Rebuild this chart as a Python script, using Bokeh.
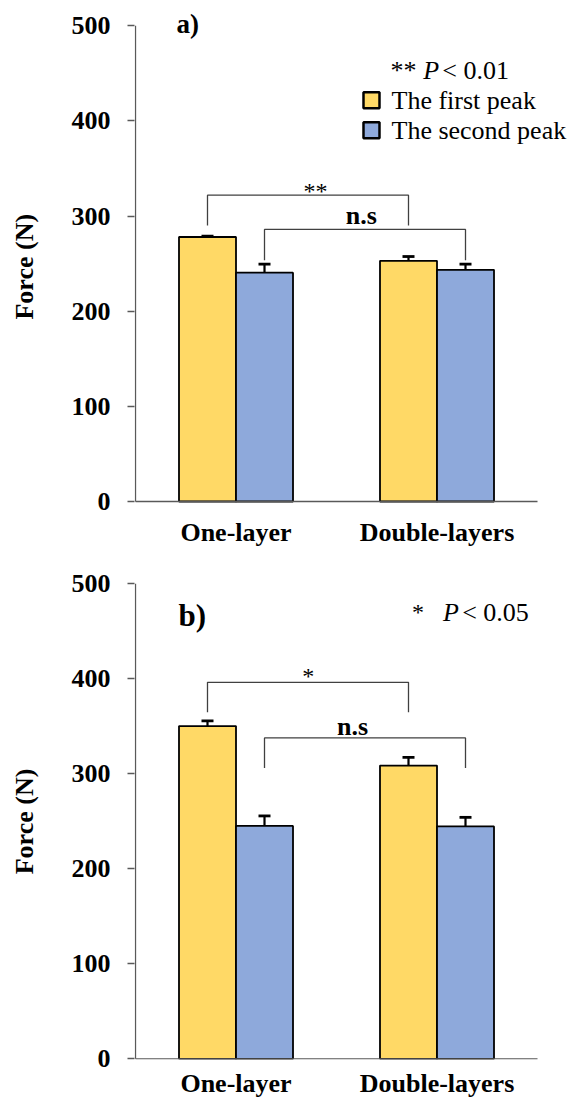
from bokeh.plotting import figure
from bokeh.models import (ColumnDataSource, Range1d, Whisker, TeeHead, Label,
                          FixedTicker)
from bokeh.layouts import column
from bokeh.embed import file_html
from bokeh.resources import INLINE

# ---------------- data ----------------
groups = ["One-layer", "Double-layers"]
series = ["The first peak", "The second peak"]
yticks = [0, 100, 200, 300, 400, 500]

a_first = [278, 253]
a_first_err = [1, 4.5]
a_second = [240.5, 243.5]
a_second_err = [9, 6]

b_first = [350, 308.5]
b_first_err = [5.5, 8.5]
b_second = [245, 244.5]
b_second_err = [10.5, 9.5]

# significance brackets: (series joined, top, leg end)
a_brackets = [("first", 322, 290), ("second", 286, 253.5)]
b_brackets = [("first", 396, 364.5), ("second", 337.5, 306)]

# ---------------- style ----------------
YELLOW = "#FFD966"
BLUE = "#8EA9DB"
SERIF = "Liberation Serif"
AXIS = "#595959"
BW = 0.2836
centers = [0.5, 1.5]
W = 571
XMAX = 2.0        # end of the category axis
YMAX = 500.0      # end of the value axis


def make_panel(first, first_err, second, second_err, brackets, ylabel,
               height, top_border, bottom_border, y_start, y_end, x_standoff):
    p = figure(width=W, height=height, output_backend="svg",
               toolbar_location=None,
               x_range=Range1d(-1 / 201, 436 / 201),
               y_range=Range1d(y_start, y_end),
               min_border_left=134, min_border_right=0,
               min_border_top=top_border, min_border_bottom=bottom_border)
    p.outline_line_color = None
    p.xgrid.visible = False
    p.ygrid.visible = False

    x1 = [c - BW / 2 for c in centers]
    x2 = [c + BW / 2 for c in centers]
    r1 = p.vbar(x=x1, top=first, width=BW, fill_color=YELLOW,
                line_color="black", line_width=1.8)
    r2 = p.vbar(x=x2, top=second, width=BW, fill_color=BLUE,
                line_color="black", line_width=1.8)

    xs_all = x1 + x2
    vals = first + second
    errs = first_err + second_err
    src = ColumnDataSource(dict(base=xs_all,
                                upper=[v + e for v, e in zip(vals, errs)],
                                lower=[v - e for v, e in zip(vals, errs)]))
    w = Whisker(source=src, base="base", upper="upper", lower="lower",
                line_color="black", line_width=2.2,
                upper_head=TeeHead(size=12, line_width=2.8, line_color="black"),
                lower_head=TeeHead(size=12, line_width=2.8, line_color="black"))
    p.add_layout(w)

    xs, ys = [], []
    for s, top, leg in brackets:
        xx = x1 if s == "first" else x2
        xs.append([xx[0], xx[0], xx[1], xx[1]])
        ys.append([leg, top, top, leg])
    p.multi_line(xs, ys, line_color="#404040", line_width=1.3)

    # axis lines (drawn so they stop at the ends of the value / category ranges)
    p.segment(x0=[0, 0], y0=[0, 0], x1=[XMAX, 0], y1=[0, YMAX],
              line_color=AXIS, line_width=1.3)

    # axes
    p.xaxis.ticker = FixedTicker(ticks=centers)
    p.xaxis.major_label_overrides = {centers[0]: groups[0], centers[1]: groups[1]}
    p.xaxis.major_tick_line_color = None
    p.xaxis.major_tick_out = 0
    p.xaxis.major_tick_in = 0
    p.xaxis.minor_tick_line_color = None
    p.xaxis.axis_line_color = None
    p.xaxis.major_label_text_font = SERIF
    p.xaxis.major_label_text_font_style = "bold"
    p.xaxis.major_label_text_font_size = "26px"
    p.xaxis.major_label_text_color = "black"
    p.xaxis.major_label_standoff = x_standoff

    p.yaxis.ticker = FixedTicker(ticks=yticks)
    p.yaxis.major_tick_out = 7
    p.yaxis.major_tick_in = 0
    p.yaxis.minor_tick_line_color = None
    p.yaxis.axis_line_color = None
    p.yaxis.major_tick_line_color = AXIS
    p.yaxis.major_tick_line_width = 1.3
    p.yaxis.major_label_text_font = SERIF
    p.yaxis.major_label_text_font_style = "bold"
    p.yaxis.major_label_text_font_size = "26px"
    p.yaxis.major_label_text_color = "black"
    p.yaxis.major_label_standoff = 17
    p.yaxis.axis_label = ylabel
    p.yaxis.axis_label_text_font = SERIF
    p.yaxis.axis_label_text_font_style = "bold"
    p.yaxis.axis_label_text_font_size = "26px"
    p.yaxis.axis_label_text_color = "black"
    p.yaxis.axis_label_standoff = 30
    return p, r1, r2


def lab(p, x, y, text, size="26px", style="normal", align="left"):
    p.add_layout(Label(x=x, y=y, text=text, text_font=SERIF,
                       text_font_size=size, text_font_style=style,
                       text_color="black", text_align=align,
                       text_baseline="alphabetic"))


# ---------------- panel a ----------------
pa, ra1, ra2 = make_panel(a_first, a_first_err, a_second, a_second_err,
                          a_brackets, "Force  (N)", 557, 12, 43,
                          -13.67, 514.0, 3)
lab(pa, 0.204, 501.9, "a)", size="27px", style="bold")
lab(pa, 0.8955, 326.5, "**", size="24px", align="center")
lab(pa, 1.123, 300.4, "n.s", style="bold", align="center")
lab(pa, 1.2687, 452.9, "**")
lab(pa, 1.4313, 452.9, "P", style="italic")
lab(pa, 1.526, 452.9, "< 0.01")
# legend (drawn as marks + texts so it may reach past the bars' area)
leg_x = [1.1741, 1.1741]
leg_y = [421.7, 390.1]
pa.scatter(x=leg_x, y=leg_y, marker="square", size=16,
           fill_color=[YELLOW, BLUE], line_color="black", line_width=2.5)
lab(pa, 1.2736, 421.3, series[0])
lab(pa, 1.2736, 389.8, series[1])

# ---------------- panel b ----------------
pb, rb1, rb2 = make_panel(b_first, b_first_err, b_second, b_second_err,
                          b_brackets, "Force (N)", 544, 26, 42,
                          -0.74, 500.0, 9)
lab(pb, 0.214, 466.4, "b)", size="31px", style="bold")
lab(pb, 0.859, 402.4, "*", size="24px", align="center")
lab(pb, 1.0796, 349.4, "n.s", style="bold", align="center")
lab(pb, 1.3756, 469.8, "*", size="24px")
lab(pb, 1.530, 469.8, "P", style="italic")
lab(pb, 1.625, 469.8, "< 0.05")

layout = column(pa, pb)
open("out.html", "w").write(file_html(layout, INLINE))
